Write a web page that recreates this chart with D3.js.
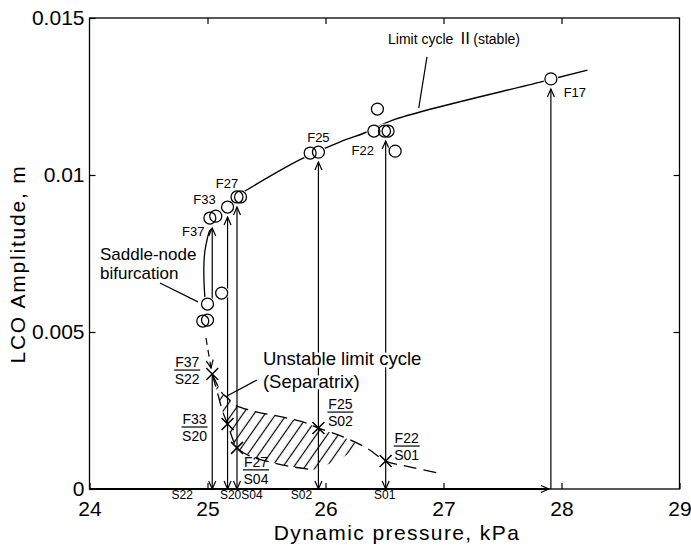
<!DOCTYPE html>
<html>
<head>
<meta charset="utf-8">
<script src="https://cdn.jsdelivr.net/npm/d3@7"></script>
<style>
  html, body { margin: 0; padding: 0; background: #fff; }
  svg { display: block; }
  text { font-family: "Liberation Sans", Arial, Helvetica, sans-serif; fill: #000; }
</style>
</head>
<body>
<svg id="chart" width="691" height="547"></svg>
<script>
// ---- axis ticks ----
const xTicks = [24, 25, 26, 27, 28, 29];
const yTicks = [0, 0.005, 0.01, 0.015];
const yTickLabels = ["0", "0.005", "0.01", "0.015"];

// ---- measured stable LCO amplitudes (open circles) ----
const lcoPressure  = [24.96, 25.00, 25.00, 25.12, 25.02, 25.07, 25.17, 25.25, 25.28, 25.87, 25.94, 26.41, 26.50, 26.53, 26.44, 26.59, 27.91];
const lcoAmplitude = [0.00535, 0.00538, 0.00589, 0.00624, 0.00863, 0.00869, 0.00898, 0.00930, 0.00930, 0.01070, 0.01073, 0.01140, 0.01140, 0.01140, 0.01210, 0.01076, 0.01306];

// ---- stable branch, Limit cycle II ----
const stablePressure  = [25.30, 25.78, 26.12, 26.35, 26.57, 27.82, 28.22];
const stableAmplitude = [0.00945, 0.01048, 0.01105, 0.01137, 0.01175, 0.01296, 0.01334];

// ---- paired runs: grow (F) / decay (S) from the same initial amplitude ----
const runF = ["F37", "F33", "F27", "F25", "F22"];
const runS = ["S22", "S20", "S04", "S02", "S01"];
const runPressure  = [25.04, 25.17, 25.25, 25.94, 26.51];
const runAmplitude = [0.00366, 0.00207, 0.00131, 0.00194, 0.00089];
// where each rising run starts and the LCO amplitude it settles on
const riseStart  = [0.00589, 0.00207, 0.00131, 0.00194, 0.00089];
const riseTarget = [0.00863, 0.00898, 0.00930, 0.01073, 0.01140];

// ---- F17: onset run at the linear flutter boundary ----
const onsetRun = "F17";
const onsetPressure = 27.91;
const onsetAmplitude = 0.01306;

// ---- unstable limit cycle (separatrix) bounds ----
const upperPressure  = [25.04, 25.12, 25.17, 25.23, 25.28, 25.42, 25.64, 25.84, 25.94, 26.15, 26.36, 26.51, 26.72, 26.95];
const upperAmplitude = [0.00366, 0.00307, 0.00290, 0.00268, 0.00260, 0.00245, 0.00229, 0.00210, 0.00194, 0.00166, 0.00128, 0.00089, 0.00070, 0.00051];
const lowerPressure  = [25.04, 25.09, 25.13, 25.17, 25.22, 25.25, 25.36, 25.53, 25.73, 25.91];
const lowerAmplitude = [0.00366, 0.00299, 0.00245, 0.00207, 0.00153, 0.00131, 0.00105, 0.00086, 0.00070, 0.00061];
// right-hand closing edge of the hatched band
const bandEdgePressure  = [26.30, 26.12];
const bandEdgeAmplitude = [0.00138, 0.00094];

// ---- saddle-node: jump to the stable branch, and unstable branch ----
const jumpPressure  = [24.979, 24.970, 24.970, 24.979, 24.996, 25.013, 25.030];
const jumpAmplitude = [0.00602, 0.00666, 0.00720, 0.00761, 0.00793, 0.00818, 0.00828];
const branchPressure  = [24.987, 25.030];
const branchAmplitude = [0.00481, 0.00385];

// ---- layout ----
const svg = d3.select("#chart");
const x = d3.scaleLinear().domain([24, 29]).range([89.5, 679.5]);
const y = d3.scaleLinear().domain([0, 0.015]).range([489, 18]);
const R = 6;                 // circle radius
const HEAD = 8, HALF = 3.5;  // arrowhead length / half-width

const defs = svg.append("defs");

// hatch for the separatrix band
defs.append("pattern")
  .attr("id", "hatch")
  .attr("patternUnits", "userSpaceOnUse")
  .attr("width", 9).attr("height", 9)
  .attr("patternTransform", "rotate(35)")
  .append("line")
  .attr("x1", 4.5).attr("y1", 0).attr("x2", 4.5).attr("y2", 9)
  .attr("stroke", "#000").attr("stroke-width", 1.2);

// lines are cut where they meet the circles
const mask = defs.append("mask").attr("id", "circleGaps").attr("maskUnits", "userSpaceOnUse")
  .attr("x", 0).attr("y", 0).attr("width", 691).attr("height", 547);
mask.append("rect").attr("width", 691).attr("height", 547).attr("fill", "#fff");
lcoPressure.forEach((p, i) => {
  mask.append("circle").attr("cx", x(p)).attr("cy", y(lcoAmplitude[i])).attr("r", R + 1.5).attr("fill", "#000");
});

// ---- frame and axes ----
svg.append("rect")
  .attr("x", x(24)).attr("y", y(0.015))
  .attr("width", x(29) - x(24)).attr("height", y(0) - y(0.015))
  .attr("fill", "none").attr("stroke", "#000").attr("stroke-width", 1.3);

function styleAxis(g, fs) {
  g.select(".domain").remove();
  g.selectAll(".tick line").attr("stroke", "#000").attr("stroke-width", 1.2);
  g.selectAll(".tick text").attr("font-size", fs).attr("fill", "#000")
    .attr("font-family", "Liberation Sans, Arial, sans-serif");
}

svg.append("g").attr("transform", `translate(0,${y(0)})`)
  .call(d3.axisBottom(x).tickValues(xTicks).tickSizeInner(-6).tickSizeOuter(0).tickPadding(12).tickFormat(d3.format("d")))
  .call(g => styleAxis(g, 21));
svg.append("g").attr("transform", `translate(${x(24)},0)`)
  .call(d3.axisLeft(y).tickValues(yTicks).tickSizeInner(-6).tickSizeOuter(0).tickPadding(5).tickFormat((d, i) => yTickLabels[i]))
  .call(g => styleAxis(g, 21));
svg.append("g").attr("transform", `translate(0,${y(0.015)})`)
  .call(d3.axisTop(x).tickValues(xTicks.slice(1, -1)).tickSizeInner(-6).tickSizeOuter(0).tickFormat(""))
  .call(g => styleAxis(g, 21));
svg.append("g").attr("transform", `translate(${x(29)},0)`)
  .call(d3.axisRight(y).tickValues(yTicks.slice(1, -1)).tickSizeInner(-6).tickSizeOuter(0).tickFormat(""))
  .call(g => styleAxis(g, 21));

// axis titles
svg.append("text")
  .attr("x", 397).attr("y", 540)
  .attr("text-anchor", "middle").attr("font-size", 21).attr("letter-spacing", 1.4)
  .text("Dynamic pressure, kPa");
svg.append("text")
  .attr("transform", "translate(17,264) rotate(-90)")
  .attr("text-anchor", "middle").attr("dominant-baseline", "central")
  .attr("font-size", 21).attr("letter-spacing", 1.8)
  .text("LCO Amplitude, m");

// ---- helpers ----
function arrow(g, x1, y1, x2, y2, w) {
  g.append("line").attr("x1", x1).attr("y1", y1).attr("x2", x2).attr("y2", y2)
    .attr("stroke", "#000").attr("stroke-width", w || 1.2);
  arrowHead(g, x1, y1, x2, y2);
}
function arrowHead(g, x1, y1, x2, y2) {
  const dx = x2 - x1, dy = y2 - y1, L = Math.hypot(dx, dy) || 1;
  const ux = dx / L, uy = dy / L, nx = -uy, ny = ux;
  const bx = x2 - HEAD * ux, by = y2 - HEAD * uy;
  g.append("path")
    .attr("d", `M${bx + HALF * nx},${by + HALF * ny}L${x2},${y2}L${bx - HALF * nx},${by - HALF * ny}`)
    .attr("fill", "none").attr("stroke", "#000").attr("stroke-width", 1.2);
}

const marks = svg.append("g");
const masked = marks.append("g").attr("mask", "url(#circleGaps)");

// ---- hatched band between the separatrix bounds ----
const band = [];
upperPressure.forEach((p, i) => { if (p <= 26.15) band.push([p, upperAmplitude[i]]); });
bandEdgePressure.forEach((p, i) => band.push([p, bandEdgeAmplitude[i]]));
for (let i = lowerPressure.length - 1; i >= 0; i--) band.push([lowerPressure[i], lowerAmplitude[i]]);
marks.append("path")
  .attr("d", d3.line().x(d => x(d[0])).y(d => y(d[1])).curve(d3.curveLinearClosed)(band))
  .attr("fill", "url(#hatch)").attr("stroke", "none");

// dashed separatrix curves
const dashLine = d3.line().x(d => x(d[0])).y(d => y(d[1])).curve(d3.curveCatmullRom);
[[upperPressure, upperAmplitude], [lowerPressure, lowerAmplitude]].forEach(([ps, as]) => {
  marks.append("path")
    .attr("d", dashLine(ps.map((p, i) => [p, as[i]])))
    .attr("fill", "none").attr("stroke", "#000").attr("stroke-width", 1.3)
    .attr("stroke-dasharray", "13,7");
});

// ---- stable branch ----
masked.append("path")
  .attr("d", d3.line().x(d => x(d[0])).y(d => y(d[1])).curve(d3.curveCatmullRom)(stablePressure.map((p, i) => [p, stableAmplitude[i]])))
  .attr("fill", "none").attr("stroke", "#000").attr("stroke-width", 1.4);

// ---- saddle-node jump and unstable branch ----
const jumpPts = jumpPressure.map((p, i) => [x(p), y(jumpAmplitude[i])]);
masked.append("path")
  .attr("d", d3.line().curve(d3.curveCatmullRom)(jumpPts))
  .attr("fill", "none").attr("stroke", "#000").attr("stroke-width", 1.3);
masked.append("line")
  .attr("x1", x(branchPressure[0])).attr("y1", y(branchAmplitude[0]))
  .attr("x2", x(branchPressure[1])).attr("y2", y(branchAmplitude[1]))
  .attr("stroke", "#000").attr("stroke-width", 1.2).attr("stroke-dasharray", "7,5");
arrowHead(marks, x(branchPressure[0]), y(branchAmplitude[0]), x(branchPressure[1]), y(branchAmplitude[1]));

// ---- paired runs: rising arrows to the LCO, decaying arrows to zero ----
runPressure.forEach((p, i) => {
  const px = x(p);
  arrow(masked, px, y(riseStart[i]), px, y(riseTarget[i]) + R + 4);
  arrow(marks, px, y(runAmplitude[i]), px, y(0));
});

// onset run: pressure increased along zero amplitude, then jump up to F17
arrow(marks, x(24), y(0), x(onsetPressure) - 2, y(0), 1.8);
arrow(marks, x(onsetPressure), y(0), x(onsetPressure), y(onsetAmplitude) + R + 4);

// ---- circles ----
marks.append("g").selectAll("circle")
  .data(lcoPressure.map((p, i) => [p, lcoAmplitude[i]]))
  .join("circle")
  .attr("cx", d => x(d[0])).attr("cy", d => y(d[1])).attr("r", R)
  .attr("fill", "none").attr("stroke", "#000").attr("stroke-width", 1.25);

// ---- crosses at the initial amplitudes ----
runPressure.forEach((p, i) => {
  const cx = x(p), cy = y(runAmplitude[i]), s = 6;
  marks.append("path")
    .attr("d", `M${cx - s},${cy - s}L${cx + s},${cy + s}M${cx - s},${cy + s}L${cx + s},${cy - s}`)
    .attr("stroke", "#000").attr("stroke-width", 1.5).attr("fill", "none");
});

// ---- labels ----
const labels = svg.append("g");

// run label next to each reached LCO (offsets in px)
const riseLabelOffset = [[-19, 13], [-23, -8], [-10, -13], [0, -15], [-23, 19]];
runF.forEach((name, i) => {
  labels.append("text")
    .attr("x", x(runPressure[i]) + riseLabelOffset[i][0])
    .attr("y", y(riseTarget[i]) + riseLabelOffset[i][1])
    .attr("text-anchor", "middle").attr("dominant-baseline", "central")
    .attr("font-size", 13).text(name);
});
labels.append("text")
  .attr("x", x(onsetPressure) + 24).attr("y", y(onsetAmplitude) + 14)
  .attr("text-anchor", "middle").attr("dominant-baseline", "central")
  .attr("font-size", 13).text(onsetRun);

// F/S fraction beside each cross (offset of bar centre, px)
const fracOffset = [[-25, -4], [-33, 3], [19, 22], [22, -16], [21, -15]];
runF.forEach((f, i) => {
  const cx = x(runPressure[i]) + fracOffset[i][0];
  const by = y(runAmplitude[i]) + fracOffset[i][1];
  labels.append("text").attr("x", cx).attr("y", by - 3)
    .attr("text-anchor", "middle").attr("font-size", 14).text(f);
  labels.append("line").attr("x1", cx - 13).attr("x2", cx + 13).attr("y1", by).attr("y2", by)
    .attr("stroke", "#000").attr("stroke-width", 1.2);
  labels.append("text").attr("x", cx).attr("y", by + 14)
    .attr("text-anchor", "middle").attr("font-size", 14).text(runS[i]);
});

// S run names under the axis
const sLabelOffset = [-30, 3, 15, -17, -1];
runS.forEach((s, i) => {
  labels.append("text")
    .attr("x", x(runPressure[i]) + sLabelOffset[i]).attr("y", y(0) + 10)
    .attr("text-anchor", "middle").attr("font-size", 12).text(s);
});

// annotations
function note(lines, p, a, fs, lh) {
  const t = labels.append("text")
    .attr("x", x(p)).attr("y", y(a)).attr("font-size", fs)
    .attr("stroke", "#fff").attr("stroke-width", 5).attr("paint-order", "stroke")
    .attr("stroke-linejoin", "round");
  lines.forEach((s, i) => t.append("tspan").attr("x", x(p)).attr("dy", i ? lh : 0).text(s));
  return t;
}
function pointer(p1, a1, p2, a2) {
  labels.append("line")
    .attr("x1", x(p1)).attr("y1", y(a1)).attr("x2", x(p2)).attr("y2", y(a2))
    .attr("stroke", "#000").attr("stroke-width", 1.2);
}

const lc = labels.append("text").attr("x", x(26.53)).attr("y", y(0.01417)).attr("font-size", 14);
lc.append("tspan").text("Limit cycle ");
lc.append("tspan").attr("font-family", "Noto Sans CJK JP, DejaVu Serif, serif").attr("font-size", 16).text("Ⅱ");
lc.append("tspan").text("(stable)");
pointer(26.86, 0.01376, 26.79, 0.01213);

note(["Saddle-node", "bifurcation"], 24.089, 0.00729, 17, 19);
pointer(24.597, 0.00656, 24.919, 0.00596);

note(["Unstable limit cycle", "(Separatrix)"], 25.47, 0.00395, 18.5, 23);
pointer(25.419, 0.00347, 25.165, 0.00296);
</script>
</body>
</html>
